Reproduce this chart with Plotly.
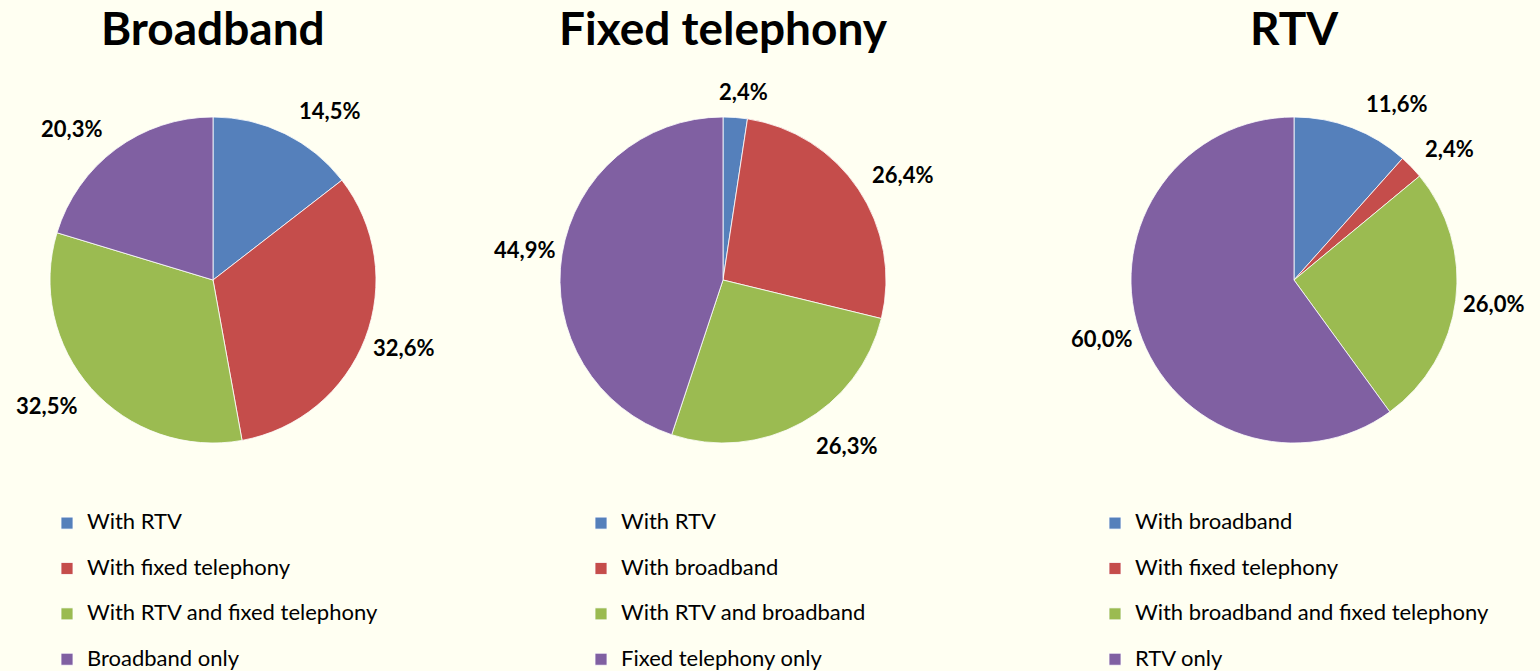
import math
import plotly.graph_objects as go

W, H = 1540, 671
BG = "#FFFFF2"
FONT = "Lato"

titles = ["Broadband", "Fixed telephony", "RTV"]

labels_bb = ["With RTV", "With fixed telephony", "With RTV and fixed telephony", "Broadband only"]
values_bb = [14.5, 32.6, 32.5, 20.3]

labels_ft = ["With RTV", "With broadband", "With RTV and broadband", "Fixed telephony only"]
values_ft = [2.4, 26.4, 26.3, 44.9]

labels_rtv = ["With broadband", "With fixed telephony", "With broadband and fixed telephony", "RTV only"]
values_rtv = [11.6, 2.4, 26.0, 60.0]

colors = ["#5580BB", "#C54D4B", "#9BBB51", "#8060A2"]

# layout (pixels)
centers_x = [213, 723, 1294]
center_y = 280
R = 163
legend_x_px = [47, 581, 1095]
legend_top_px = 506


def label_position(cx, cy, radius, theta, text):
    """Outside-end label placement: just beyond the rim, pushed sideways."""
    s, c = math.sin(theta), math.cos(theta)
    half_w = 6 * len(text) + 14.5
    side = max(-1.0, min(1.0, s / 0.35))
    if abs(s) > 0.9:
        half_w *= 0.85
    px = cx + radius * s + half_w * side
    py = cy - radius * c - 26 * c
    return px, py


def legend_text(label, chart_index, last):
    # bigger first line + blank second line gives the wider row spacing;
    # the per-chart suffix keeps legend entries separate between charts
    t = "<span style='font-size:22px'>" + label + "</span>"
    if not last:
        t += "<br>"
    return t + " " * (chart_index + 1)


fig = go.Figure()
annotations = []
legend_names = ["legend", "legend2", "legend3"]
datasets = [(labels_bb, values_bb), (labels_ft, values_ft), (labels_rtv, values_rtv)]

for i, ((labs, vals), title) in enumerate(zip(datasets, titles)):
    cx = centers_x[i]
    legend_labels = [legend_text(l, i, k == len(labs) - 1) for k, l in enumerate(labs)]
    fig.add_trace(go.Pie(
        labels=legend_labels,
        values=vals,
        sort=False,
        direction="clockwise",
        rotation=0,
        marker=dict(colors=colors, line=dict(color="#FFFFFF", width=0.8)),
        textinfo="none",
        hoverinfo="value",
        domain=dict(x=[(cx - R) / W, (cx + R) / W],
                    y=[1 - (center_y + R) / H, 1 - (center_y - R) / H]),
        legend=legend_names[i],
        showlegend=True,
    ))
    total = sum(vals)
    cum = 0.0
    for v in vals:
        mid = (cum + v / 2) / total * 2 * math.pi
        cum += v
        txt = f"{v:.1f}%".replace(".", ",")
        px, py = label_position(cx, center_y, R, mid, txt)
        annotations.append(dict(
            x=px / W, y=1 - py / H, xref="paper", yref="paper",
            text=txt, showarrow=False,
            font=dict(family=FONT, size=22, color="#000000", weight="bold"),
            xanchor="center", yanchor="middle"))
    annotations.append(dict(
        x=cx / W, y=1 - 28 / H, xref="paper", yref="paper",
        text=f"<b>{title}</b>", showarrow=False,
        font=dict(family=FONT, size=46, color="#000000"),
        xanchor="center", yanchor="middle"))

legend_common = dict(
    font=dict(family=FONT, size=16.3, color="#000000"),
    bgcolor="rgba(0,0,0,0)",
    valign="top",
    yanchor="top",
    xanchor="left",
    orientation="v",
)

fig.update_layout(
    width=W, height=H,
    margin=dict(l=0, r=0, t=0, b=0, autoexpand=False),
    paper_bgcolor=BG,
    plot_bgcolor=BG,
    annotations=annotations,
    legend=dict(x=legend_x_px[0] / W, y=1 - legend_top_px / H, **legend_common),
    legend2=dict(x=legend_x_px[1] / W, y=1 - legend_top_px / H, **legend_common),
    legend3=dict(x=legend_x_px[2] / W, y=1 - legend_top_px / H, **legend_common),
)

fig.write_html("out.html")
